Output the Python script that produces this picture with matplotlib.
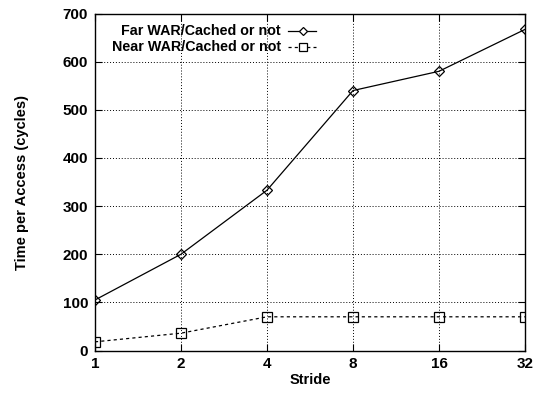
import matplotlib
matplotlib.use("Agg")
import matplotlib.pyplot as plt
from matplotlib.lines import Line2D

plt.rcParams['font.family'] = ['Liberation Sans', 'DejaVu Sans']
plt.rcParams['font.weight'] = 'bold'

strides = [1, 2, 4, 8, 16, 32]
far_war = [105, 200, 333, 540, 580, 667]
near_war = [18, 36, 70, 70, 70, 70]
far_label = "Far WAR/Cached or not"
near_label = "Near WAR/Cached or not"
y_ticks = [0, 100, 200, 300, 400, 500, 600, 700]

near_dash = (0, (2.5, 2.5))

fig = plt.figure(figsize=(5.35, 3.94), dpi=100)
ax = fig.add_axes([0.1776, 0.1104, 0.8037, 0.8553])

ax.set_xscale('log', base=2)
ax.plot(strides, far_war, color='black', lw=0.9, marker='D', ms=5,
        mfc='none', mec='black', mew=0.9)
ax.plot(strides, near_war, color='black', lw=0.9, ls=near_dash, marker='s',
        ms=6.5, mfc='none', mec='black', mew=0.9)

ax.set_xlim(1, 32)
ax.set_ylim(0, 700)
ax.set_xticks(strides)
ax.set_xticklabels([str(s) for s in strides])
ax.minorticks_off()
ax.set_yticks(y_ticks)
ax.tick_params(direction='in', length=5, width=0.8, labelsize=11,
               top=True, right=True, pad=5)
for lab in ax.get_xticklabels() + ax.get_yticklabels():
    lab.set_fontweight('bold')
ax.grid(True, color='black', ls=(0, (1, 2)), lw=0.7)
for s in ax.spines.values():
    s.set_linewidth(1.0)

ax.set_xlabel("Stride", fontsize=10.5, fontweight='bold', labelpad=1)
ax.set_ylabel("Time per Access (cycles)", fontsize=10.5, fontweight='bold', labelpad=24)

# Key in the upper left corner: right-aligned text followed by the line sample
entries = [(far_label, '-', 'D', 4.5), (near_label, near_dash, 's', 5.5)]
rows = [0.948, 0.901]
for (lab, ls, mk, ms), yy in zip(entries, rows):
    ax.text(0.4326, yy, lab, transform=ax.transAxes, ha='right', va='center',
            fontsize=10.3, fontweight='bold')
    ax.add_line(Line2D([0.4488, 0.514], [yy, yy], transform=ax.transAxes,
                       color='black', lw=0.9, ls=ls))
    ax.add_line(Line2D([0.4837], [yy], transform=ax.transAxes, color='black',
                       marker=mk, ms=ms, mfc='white', mec='black', mew=0.9))

fig.savefig("out.png", dpi=100)
